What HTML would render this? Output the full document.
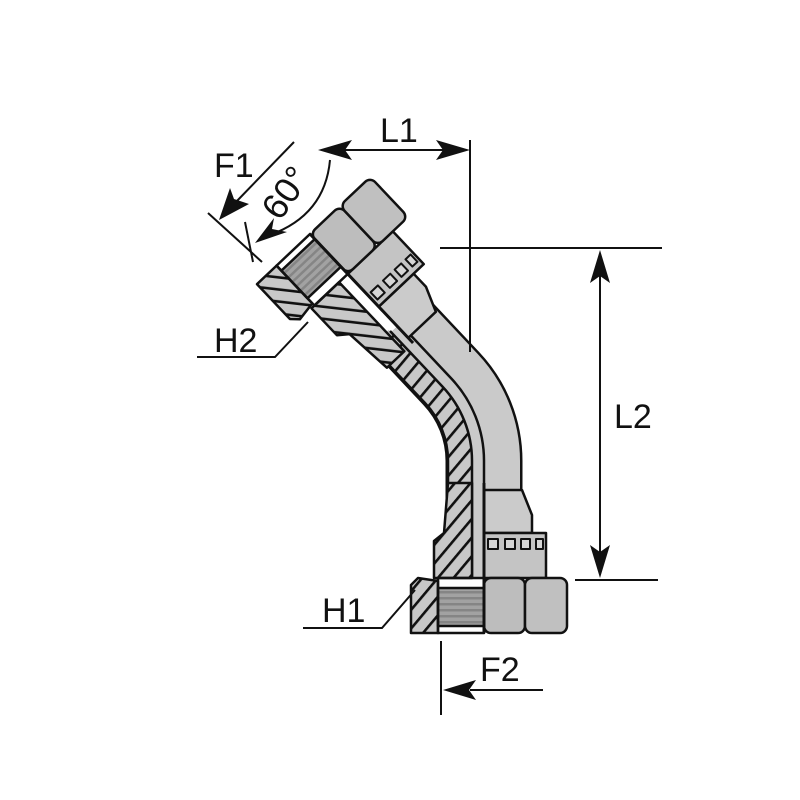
<!DOCTYPE html>
<html><head><meta charset="utf-8"><style>
html,body{margin:0;padding:0;background:#fff}
svg{display:block}
text{font-family:"Liberation Sans",sans-serif;fill:#111}
</style></head><body>
<svg width="800" height="800" viewBox="0 0 800 800" xmlns="http://www.w3.org/2000/svg">
<defs>
<pattern id="h" patternUnits="userSpaceOnUse" width="12" height="12" patternTransform="rotate(40)">
<rect width="12" height="12" fill="#c8c8c8"/><rect x="0" y="0" width="2.6" height="12" fill="#111"/>
</pattern>
<pattern id="t" patternUnits="userSpaceOnUse" width="6" height="6">
<rect width="6" height="6" fill="#a2a2a2"/><rect y="0" width="6" height="2.5" fill="#858585"/>
</pattern>
<g id="fit" stroke="#111" stroke-width="2.5" stroke-linejoin="round">
 <polygon points="0,-143 38,-143 48,-118 48,-100 0,-100" fill="#cbcbcb"/>
 <rect x="0" y="-100" width="62" height="45" fill="#c4c4c4"/>
 <g fill="#d6d6d6" stroke-width="2">
  <rect x="4" y="-94" width="10" height="10"/><rect x="21" y="-94" width="10" height="10"/>
  <rect x="37" y="-94" width="9" height="10"/><rect x="52" y="-94" width="7" height="10"/>
 </g>
 <rect x="0" y="-55" width="41" height="55" rx="7" fill="#bdbdbd"/>
 <rect x="41" y="-55" width="42" height="55" rx="7" fill="#c0c0c0"/>
 <polygon points="-50,-55 -50,-92 -40,-100 -36,-150 -12,-150 -12,-55" fill="url(#h)"/>
 <polygon points="-73,0 -73,-48 -66,-55 -46,-52 -46,0" fill="url(#h)"/>
 <rect x="-46" y="-45" width="46" height="38" fill="url(#t)"/>
 <rect x="-46" y="-55" width="46" height="55" fill="none"/>
 <line x1="0" y1="0" x2="0" y2="-150" stroke-width="3"/>
</g>
</defs>

<g fill="none">
<path d="M484,578 V460.8 A120,120 0 0 0 451.2,378.4 L400,324" stroke="#111" stroke-width="77"/>
<path d="M484,578 V460.8 A120,120 0 0 0 451.2,378.4 L400,324" stroke="#cacaca" stroke-width="72"/>
<path d="M460,578 V460.8 A96,96 0 0 0 433.8,394.8 L380,338" stroke="url(#h)" stroke-width="24"/>
<path d="M448,578 V460.8 A84,84 0 0 0 425,403 L370,345" stroke="#111" stroke-width="2.5"/>
<path d="M472,578 V460.8 A108,108 0 0 0 442.5,386.6 L390,331" stroke="#111" stroke-width="2.5"/>
<path d="M484,578 V460.8 A120,120 0 0 0 451.2,378.4 L400,324" stroke="#111" stroke-width="2.5"/>
</g>

<use href="#fit" transform="translate(484,633)"/>
<use href="#fit" transform="translate(310,234) rotate(136.6) scale(-1,1)"/>

<g stroke="#111" stroke-width="2" fill="none">
<line x1="470" y1="140" x2="470" y2="352"/>
<line x1="345" y1="150" x2="445" y2="150"/>
<line x1="440" y1="248" x2="662" y2="248"/>
<line x1="575" y1="580" x2="658" y2="580"/>
<line x1="600" y1="275" x2="600" y2="555"/>
<line x1="441" y1="641" x2="441" y2="715"/>
<line x1="470" y1="690" x2="543" y2="690"/>
<polyline points="303,628 382,628 415,590"/>
<polyline points="197,357 275,357 308,322"/>
<line x1="294" y1="142" x2="235" y2="203"/>
<line x1="208" y1="213" x2="262" y2="262"/>
<line x1="245" y1="222" x2="253" y2="262"/>
<path d="M330,160 Q325,215 270,235"/>
</g>
<g fill="#111">
<polygon points="318,150 352,140 345,150 352,160"/>
<polygon points="470,150 436,140 443,150 436,160"/>
<polygon points="600,250 590,283 600,276 610,283"/>
<polygon points="600,578 590,545 600,552 610,545"/>
<polygon points="443,690 476,680 469,690 476,700"/>
<polygon points="219,220 230,188 234,199 249,204"/>
<polygon points="255,243 274,218 272,229 287,232"/>
</g>
<text x="380" y="142" font-size="34">L1</text>
<text x="614" y="428" font-size="34">L2</text>
<text x="480" y="681" font-size="34">F2</text>
<text x="322" y="622" font-size="34">H1</text>
<text x="214" y="352" font-size="34">H2</text>
<text x="214" y="177" font-size="34">F1</text>
<text x="0" y="0" font-size="36" transform="translate(280,222) rotate(-55)">60°</text>
</svg>
</body></html>
